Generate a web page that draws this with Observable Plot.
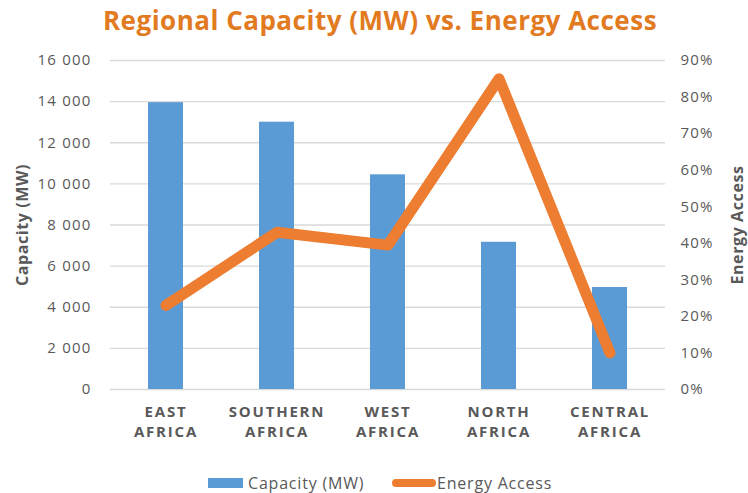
<!DOCTYPE html>
<html>
<head>
<meta charset="utf-8">
<script src="https://cdn.jsdelivr.net/npm/d3@7"></script>
<script src="https://cdn.jsdelivr.net/npm/@observablehq/plot@0.6"></script>
<style>
  html, body { margin: 0; padding: 0; background: #fff; }
  body { width: 748px; height: 493px; position: relative; overflow: hidden; font-family: "Open Sans", sans-serif; }
  #title { position: absolute; left: 0; top: 0; width: 748px; height: 44px; box-sizing: border-box; padding-left: 12px;
           text-align: center; font-weight: 700; font-size: 26px; letter-spacing: 0.5px; line-height: 40px; color: #E27A1F; }
  #chart { position: absolute; left: 0; top: 44px; }
  .lg { position: absolute; font-size: 16px; letter-spacing: 0.8px; color: #595959; line-height: 18px; }
  #chart g[aria-label="y-axis tick label"] text { letter-spacing: 1.2px; }
  #chart g[aria-label="x-axis tick label"] text { letter-spacing: 1.8px; }
  #chart g[aria-label="text"] text { letter-spacing: 0.6px; }
</style>
</head>
<body>
<div id="title">Regional Capacity (MW) vs. Energy Access</div>
<div id="chart"></div>
<div id="legend">
  <div style="position:absolute;left:208px;top:478px;width:35px;height:10px;background:#5B9BD5"></div>
  <div class="lg" style="left:248px;top:474px">Capacity (MW)</div>
  <svg style="position:absolute;left:390px;top:476px" width="48" height="14"><line x1="6" y1="7" x2="42" y2="7" stroke="#ED7D31" stroke-width="8" stroke-linecap="round"/></svg>
  <div class="lg" style="left:437px;top:474px">Energy Access</div>
</div>
<script>
const regions = ["EAST AFRICA", "SOUTHERN AFRICA", "WEST AFRICA", "NORTH AFRICA", "CENTRAL AFRICA"];
const capacity = [13950, 13000, 10440, 7160, 4960];
const access = [23, 43, 39.5, 85, 10];
const capTicks = [0, 2000, 4000, 6000, 8000, 10000, 12000, 14000, 16000];
const pctTicks = [0, 10, 20, 30, 40, 50, 60, 70, 80, 90];

const capMax = 16000, pctMax = 90;
const toCap = p => p * capMax / pctMax;
const data = regions.map((r, i) => ({region: r, capacity: capacity[i], access: access[i]}));
const fmt = d => d3.format(",")(d).replace(/,/g, " ");
const grey = "#595959";

const plot = Plot.plot({
  width: 748,
  height: 400,
  marginTop: 16,
  marginBottom: 55,
  marginLeft: 110,
  marginRight: 83,
  style: {fontFamily: "Open Sans, sans-serif", color: grey, background: "transparent"},
  x: {domain: regions, type: "band", paddingInner: 0.685, paddingOuter: 0.3425},
  y: {domain: [0, capMax]},
  marks: [
    Plot.ruleY(capTicks, {stroke: "#d9d9d9", strokeWidth: 1.3}),
    Plot.barY(data, {x: "region", y: "capacity", fill: "#5B9BD5"}),
    Plot.line(data, {x: "region", y: d => toCap(d.access), stroke: "#ED7D31", strokeWidth: 11,
                     strokeLinecap: "round", strokeLinejoin: "round"}),
    Plot.axisY({anchor: "left", ticks: capTicks, tickFormat: fmt, tickSize: 0, tickPadding: 19,
                fontSize: 15, fill: grey, label: null}),
    Plot.axisY({anchor: "right", ticks: pctTicks.map(toCap), tickFormat: d => Math.round(d * pctMax / capMax) + "%",
                tickSize: 0, tickPadding: 15, fontSize: 15, fill: grey, textAnchor: "start", label: null}),
    Plot.axisX({anchor: "bottom", tickSize: 0, tickPadding: 13, fontSize: 15, fontWeight: "bold", fill: grey,
                lineHeight: 1.33, tickFormat: d => d.replace(" ", "\n"), label: null}),
    Plot.text(["Capacity (MW)"], {frameAnchor: "left", dx: -88, rotate: -90, textAnchor: "middle",
                                  fontSize: 16, fontWeight: "bold", fill: grey}),
    Plot.text(["Energy Access"], {frameAnchor: "right", dx: 72, rotate: -90, textAnchor: "middle",
                                  fontSize: 16, fontWeight: "bold", fill: grey})
  ]
});
document.getElementById("chart").appendChild(plot);
</script>
</body>
</html>
